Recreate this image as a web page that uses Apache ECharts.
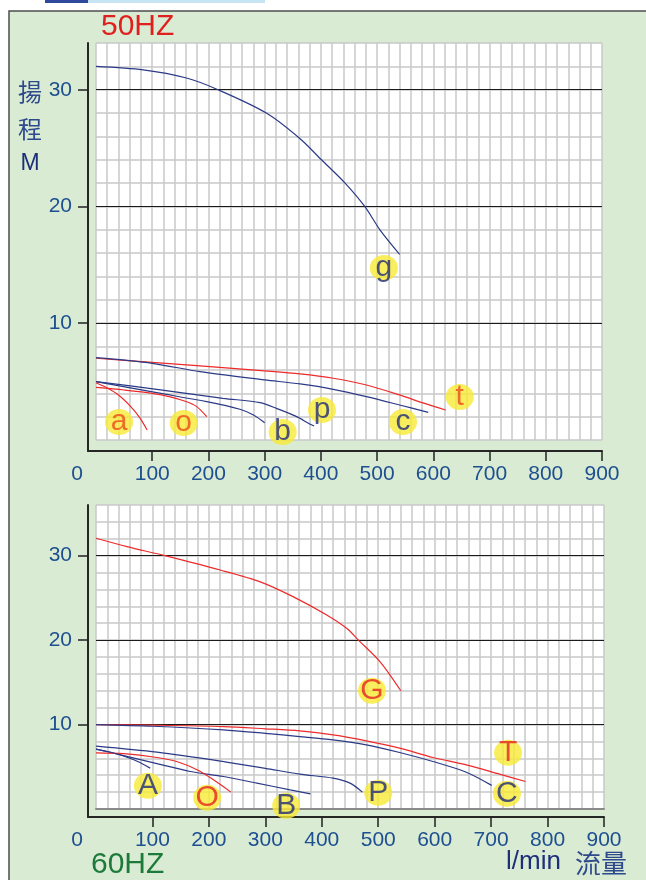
<!DOCTYPE html>
<html>
<head>
<meta charset="utf-8">
<script src="https://cdn.jsdelivr.net/npm/echarts@6/dist/echarts.min.js"></script>
<style>
html, body { margin: 0; padding: 0; background: #ffffff; }
#chart { width: 646px; height: 880px; }
</style>
</head>
<body>
<div id="chart"></div>
<script>
// Flow axis (l/min) and head axis (m) tick values
const flowLabels = [0, 100, 200, 300, 400, 500, 600, 700, 800, 900];
const flowTicks = [100, 200, 300, 400, 500, 600, 700, 800, 900];
const headLabels = [10, 20, 30];

// 50 Hz pump curves: [flow l/min, head m]
const g50 = [[0, 32.0], [84, 31.7], [161, 31.0], [217, 30.0], [303, 28.0], [363, 25.8], [401, 24.0], [443, 22.0], [478, 20.0], [505, 18.0], [540, 15.9]];
const t50 = [[0, 7.0], [100, 6.65], [185, 6.35], [300, 5.92], [363, 5.66], [422, 5.29], [481, 4.71], [540, 3.86], [580, 3.2], [622, 2.57]];
const c50 = [[0, 7.05], [100, 6.57], [185, 5.85], [300, 5.15], [363, 4.8], [422, 4.34], [481, 3.71], [540, 3.0], [591, 2.37]];
const p50 = [[0, 5.0], [108, 4.34], [226, 3.57], [292, 3.2], [321, 2.71], [357, 2.0], [380, 1.37], [388, 1.2]];
const b50 = [[0, 5.0], [108, 4.05], [197, 3.28], [256, 2.63], [280, 2.14], [300, 1.48]];
const o50 = [[0, 4.5], [50, 4.28], [100, 4.0], [132, 3.7], [160, 3.3], [178, 2.9], [197, 2.0]];
const a50 = [[0, 4.9], [20, 4.45], [40, 3.85], [63, 2.8], [78, 1.9], [91, 0.86]];

// 60 Hz pump curves: [flow l/min, head m]
const G60 = [[0, 32.06], [55, 31.07], [122, 30.0], [220, 28.3], [291, 26.9], [349, 25.15], [408, 23.0], [444, 21.4], [465, 20.0], [503, 17.46], [540, 14.0]];
const T60 = [[0, 10.0], [100, 9.93], [226, 9.76], [300, 9.5], [361, 9.25], [420, 8.78], [479, 8.07], [538, 7.2], [597, 6.1], [656, 5.23], [715, 4.13], [761, 3.26]];
const C60 = [[0, 10.0], [100, 9.8], [226, 9.37], [300, 8.95], [361, 8.58], [420, 8.19], [479, 7.6], [538, 6.69], [597, 5.62], [656, 4.36], [701, 2.8]];
const P60 = [[0, 7.45], [108, 6.73], [226, 5.62], [300, 4.82], [361, 4.13], [420, 3.65], [450, 3.06], [472, 2.0]];
const B60 = [[0, 7.1], [49, 6.32], [108, 5.38], [167, 4.44], [226, 3.85], [285, 3.06], [344, 2.27], [380, 1.8]];
const O60 = [[0, 6.65], [49, 6.55], [108, 6.1], [143, 5.62], [179, 4.64], [208, 3.46], [239, 2.0]];
const A60 = [[0, 7.1], [25, 6.75], [50, 6.25], [75, 5.6], [96, 4.84]];

// Curve tags: [letter, flow, head]
const tags50Navy = [['g', 512, 14.74], ['b', 332, 0.69], ['p', 402, 2.57], ['c', 546, 1.54]];
const tags50Red = [['a', 41, 1.54], ['o', 156, 1.46], ['t', 647, 3.68]];
const tags60Navy = [['A', 92, 2.75], ['B', 337, 0.38], ['P', 500, 1.92], ['C', 728, 1.8]];
const tags60Red = [['O', 197, 1.33], ['T', 730, 6.65], ['G', 489, 14.0]];

const NAVY = '#2b3a86';
const RED = '#ee2a2a';
const LABEL_BLUE = '#1d4f91';
const SANS = '"Liberation Sans", Arial, sans-serif';

function curve(data, color, idx) {
  return {
    type: 'line', xAxisIndex: idx, yAxisIndex: idx, data: data,
    smooth: 0.3, symbol: 'none', silent: true,
    lineStyle: { color: color, width: 1.2 }, z: 3
  };
}

function tags(list, textColor, idx) {
  return {
    type: 'scatter', xAxisIndex: idx, yAxisIndex: idx, clip: false, silent: true, z: 6,
    symbol: 'circle', symbolSize: [28, 26],
    itemStyle: { color: '#f8ea34' },
    label: {
      show: true, position: 'inside', formatter: '{b}',
      color: textColor, fontSize: 30, fontFamily: SANS
    },
    data: list.map(function (d) { return { name: d[0], value: [d[1], d[2]] }; })
  };
}

// Axis builders
function gridXAxis(gridIndex, bottomLine) {
  return {
    type: 'value', gridIndex: gridIndex, min: 0, max: 900, interval: 20, z: 0,
    axisLine: { show: bottomLine, onZero: false, lineStyle: { color: '#8a8a8a', width: 2 } },
    axisTick: { show: false }, axisLabel: { show: false },
    splitLine: { show: true, lineStyle: { color: '#c8c8c8', width: 1.5 } }
  };
}
function labelXAxis(gridIndex, offset) {
  return {
    type: 'value', gridIndex: gridIndex, min: 0, max: 900, interval: 100, offset: offset, z: 2,
    axisLine: { show: false, onZero: false },
    axisTick: { show: true, customValues: flowTicks, length: 10, lineStyle: { color: '#222', width: 1.5 } },
    axisLabel: {
      show: true, customValues: flowLabels, margin: 13,
      color: LABEL_BLUE, fontSize: 21, fontFamily: SANS,
      formatter: function (v) { return v === 0 ? '{z|0}' : String(v); },
      rich: { z: { padding: [0, 38, 0, 0], color: LABEL_BLUE, fontSize: 21, fontFamily: SANS } }
    },
    splitLine: { show: false }
  };
}
function frameAxis(gridIndex) {
  return {
    type: 'value', gridIndex: gridIndex, min: 0, max: 1, z: 2,
    axisLine: { show: true, onZero: false, lineStyle: { color: '#262626', width: 2 } },
    axisTick: { show: false }, axisLabel: { show: false }, splitLine: { show: false }
  };
}
function gridYAxis(gridIndex, maxHead) {
  return {
    type: 'value', gridIndex: gridIndex, min: 0, max: maxHead, interval: 2, z: 0,
    axisLine: { show: false, onZero: false }, axisTick: { show: false }, axisLabel: { show: false },
    splitLine: { show: true, lineStyle: { color: '#c8c8c8', width: 1.5 } }
  };
}
function labelYAxis(gridIndex, maxHead) {
  return {
    type: 'value', gridIndex: gridIndex, min: 0, max: maxHead, interval: 10, offset: 8, z: 2,
    axisLine: { show: false, onZero: false },
    axisTick: { show: true, customValues: headLabels, length: 10, lineStyle: { color: '#222', width: 1.5 } },
    axisLabel: { show: true, customValues: headLabels, margin: 16, color: LABEL_BLUE, fontSize: 21, fontFamily: SANS },
    splitLine: { show: true, lineStyle: { color: '#1a1a1a', width: 1 } }
  };
}

const chart = echarts.init(document.getElementById('chart'), null, { renderer: 'canvas' });

chart.setOption({
  animation: false,
  backgroundColor: '#ffffff',
  grid: [
    { left: 96, right: 44, top: 43, bottom: 440, show: true, backgroundColor: '#ffffff', borderWidth: 0 },
    { left: 96, right: 42, top: 505, bottom: 71, show: true, backgroundColor: '#ffffff', borderWidth: 0 },
    { left: 96, right: 44, top: 43, bottom: 440 },
    { left: 96, right: 42, top: 505, bottom: 71 },
    { left: 88, right: 44, top: 43, bottom: 429 },
    { left: 88, right: 42, top: 505, bottom: 63 }
  ],
  xAxis: [
    gridXAxis(0, false), gridXAxis(1, true),
    labelXAxis(2, 11), labelXAxis(3, 8),
    frameAxis(4), frameAxis(5)
  ],
  yAxis: [
    gridYAxis(0, 34), gridYAxis(1, 36),
    labelYAxis(2, 34), labelYAxis(3, 36),
    frameAxis(4), frameAxis(5)
  ],
  graphic: [
    // green panel behind both charts
    { type: 'rect', z: -10, silent: true, shape: { x: 9, y: 11, width: 700, height: 900 },
      style: { fill: '#d9ebd3', stroke: '#4d4d4d', lineWidth: 1.5 } },
    { type: 'rect', z: -10, silent: true, shape: { x: 45, y: 0, width: 43, height: 3 }, style: { fill: '#2f4a9c' } },
    { type: 'rect', z: -10, silent: true, shape: { x: 88, y: 0, width: 177, height: 3 }, style: { fill: '#c6e4f2' } },
    { type: 'text', z: 10, left: 101, top: 12, style: { text: '50HZ', fill: '#e0201f', font: '30px "Liberation Sans", Arial, sans-serif' } },
    { type: 'text', z: 10, left: 91, top: 850, style: { text: '60HZ', fill: '#1d7a3a', font: '30px "Liberation Sans", Arial, sans-serif' } },
    { type: 'text', z: 10, x: 30, y: 92, style: { text: '揚', fill: '#2e4a8c', font: '24px "Noto Sans CJK TC", sans-serif', textAlign: 'center', textVerticalAlign: 'middle' } },
    { type: 'text', z: 10, x: 30, y: 129, style: { text: '程', fill: '#2e4a8c', font: '24px "Noto Sans CJK TC", sans-serif', textAlign: 'center', textVerticalAlign: 'middle' } },
    { type: 'text', z: 10, x: 30, y: 164, style: { text: 'M', fill: '#1e2f7a', font: '23px "Liberation Sans", Arial, sans-serif', textAlign: 'center', textVerticalAlign: 'middle' } },
    { type: 'text', z: 10, x: 506, y: 862, style: { text: 'l/min', fill: '#1e2f7a', font: '26px "Liberation Sans", Arial, sans-serif', textVerticalAlign: 'middle' } },
    { type: 'text', z: 10, x: 575, y: 863, style: { text: '流量', fill: '#2e4a8c', font: '26px "Noto Sans CJK TC", sans-serif', textVerticalAlign: 'middle' } }
  ],
  series: [
    curve(g50, NAVY, 0), curve(t50, RED, 0), curve(c50, NAVY, 0), curve(p50, NAVY, 0),
    curve(b50, NAVY, 0), curve(o50, RED, 0), curve(a50, RED, 0),
    curve(G60, RED, 1), curve(T60, RED, 1), curve(C60, NAVY, 1), curve(P60, NAVY, 1),
    curve(B60, NAVY, 1), curve(O60, RED, 1), curve(A60, NAVY, 1),
    tags(tags50Navy, '#1f2a7a', 0), tags(tags50Red, '#ec4a1c', 0),
    tags(tags60Navy, '#1f2a7a', 1), tags(tags60Red, '#e52421', 1)
  ]
});
</script>
</body>
</html>
